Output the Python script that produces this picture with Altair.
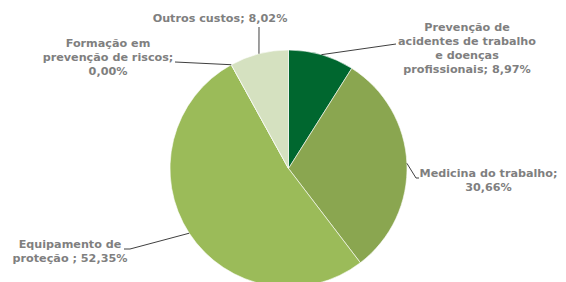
import math
import altair as alt
import pandas as pd

# ---- data ----
categories = [
    "Prevenção de acidentes de trabalho e doenças profissionais",
    "Medicina do trabalho",
    "Equipamento de proteção",
    "Formação em prevenção de riscos",
    "Outros custos",
]
values = [8.97, 30.66, 52.35, 0.00, 8.02]
labels = [
    "Prevenção de\nacidentes de trabalho\ne doenças\nprofissionais; 8,97%",
    "Medicina do trabalho;\n30,66%",
    "Equipamento de\nproteção ; 52,35%",
    "Formação em\nprevenção de riscos;\n0,00%",
    "Outros custos; 8,02%",
]
colors = ["#00672F", "#8AA650", "#9BBB59", "#9BBB59", "#D5E1C0"]

# ---- layout (pixels within plot area) ----
W, H = 550, 274
CX, CY, R = 280.5, 160.5, 118.5
# label positions (centre x, first line y)
label_pos = [(459, 20), (480.5, 166), (62, 237), (100, 36), (212, 11)]
# leader line bend / end points (after slice edge point)
leader_pts = [
    [(388, 36)],
    [(408, 170), (411, 170)],
    [(122, 241), (116, 241)],
    [(167, 54)],
    [(251, 19)],
]

df = pd.DataFrame({"cat": categories, "value": values, "order": range(len(values))})

arc = alt.Chart(df).mark_arc(outerRadius=R, stroke="white", strokeWidth=0.6).encode(
    theta=alt.Theta("value:Q", stack=True),
    order=alt.Order("order:Q"),
    color=alt.Color("cat:N", scale=alt.Scale(domain=categories, range=colors), legend=None),
    x=alt.value(CX),
    y=alt.value(CY),
)

# leader lines: start from the slice's mid angle on the rim
total = sum(values)
rows = []
cum = 0.0
for i, v in enumerate(values):
    mid = (cum + v / 2) / total * 2 * math.pi
    cum += v
    sx = CX + R * math.sin(mid)
    sy = CY - R * math.cos(mid)
    pts = [(sx, sy)] + leader_pts[i]
    for j, (px, py) in enumerate(pts):
        rows.append({"cat": categories[i], "k": j, "px": px, "py": py})
ldf = pd.DataFrame(rows)

lines = alt.Chart(ldf).mark_line(color="#404040", strokeWidth=1).encode(
    x=alt.X("px:Q", scale=None, axis=None),
    y=alt.Y("py:Q", scale=None, axis=None),
    detail="cat:N",
    order="k:Q",
)

tdf = pd.DataFrame({
    "label": labels,
    "tx": [p[0] for p in label_pos],
    "ty": [p[1] for p in label_pos],
})
text = alt.Chart(tdf).mark_text(
    font="DejaVu Sans", fontSize=11.2, fontWeight="bold", color="#7F7F7F",
    align="center", baseline="middle", lineBreak="\n", lineHeight=14,
).encode(
    x=alt.X("tx:Q", scale=None, axis=None),
    y=alt.Y("ty:Q", scale=None, axis=None),
    text="label:N",
)

chart = alt.layer(arc, lines, text).properties(
    width=W, height=H, autosize=alt.AutoSizeParams(type="none"), padding=0,
).configure_view(stroke=None)

chart.save("out.html", embed_options={"renderer": "svg", "actions": False})
